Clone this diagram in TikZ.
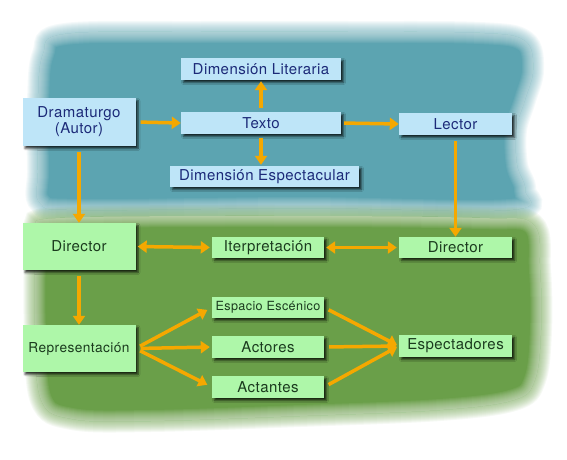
\documentclass[tikz,border=0pt]{standalone}
\usepackage{fontspec}
\setmainfont[LetterSpace=3]{TeX Gyre Heros}
\usetikzlibrary{arrows.meta,shadows.blur}
\definecolor{cielo}{HTML}{5CA4B1}
\definecolor{prado}{HTML}{6A9F49}
\definecolor{cajaazul}{HTML}{BEE5F8}
\definecolor{cajaverde}{HTML}{AEF7A9}
\definecolor{tintaazul}{HTML}{1C2A78}
\definecolor{tintaverde}{HTML}{1B3B1E}
\definecolor{flecha}{HTML}{F5A800}
\newcommand{\cielopath}{plot[smooth cycle, tension=0.6] coordinates {(65,34) (200,32) (350,32) (480,33) (525,41) (533,70) (525,100) (516,130) (517,165) (525,190) (510,210) (300,208) (80,210) (40,203) (38,170) (38,100) (43,54)}}
\newcommand{\pradopath}{plot[smooth cycle, tension=0.6] coordinates {(60,218) (300,216) (480,218) (533,224) (540,270) (541,330) (535,380) (514,400) (440,410) (300,416) (150,421) (72,419) (41,400) (35,330) (35,262) (40,230)}}
\tikzset{
  caja/.style={inner sep=0pt, font=\fontsize{15}{16}\selectfont, blur shadow={shadow xshift=2.5pt, shadow yshift=-2.5pt, shadow blur radius=2pt, shadow blur steps=4, shadow opacity=75}},
  azul/.style={caja, fill=cajaazul, text=tintaazul},
  verde/.style={caja, fill=cajaverde, text=tintaverde},
  punta/.tip={Triangle[width=12pt,length=9pt]},
  flujo/.style={-punta, line width=3.5pt, draw=flecha},
  doble/.style={punta-punta, line width=3.5pt, draw=flecha, shorten <=2pt, shorten >=2pt},
  difuso/.style={line width=#1, opacity=0.061},
  aclarar/.style={white, line width=#1, opacity=0.061}
}
\begin{document}
\begin{tikzpicture}[x=1pt, y=-1pt]
        \useasboundingbox (0,0) rectangle (567,459);
        \foreach \w in {2,4,...,22} \draw[cielo, difuso=\w pt] \cielopath;
        \fill[cielo] \cielopath;
        \begin{scope}
        \clip \cielopath;
        \foreach \w in {2,4,...,22} \draw[aclarar=\w pt] \cielopath;
        \end{scope}
        \foreach \w in {2,4,...,22} \draw[prado, difuso=\w pt] \pradopath;
        \fill[prado] \pradopath;
        \begin{scope}
        \clip \pradopath;
        \foreach \w in {2,4,...,22} \draw[aclarar=\w pt] \pradopath;
        \end{scope}
        \node (dimlit) [azul, minimum width=160pt, minimum height=22pt] at (261,69) {Dimensión Literaria};
        \node (drama) [azul, minimum width=113pt, minimum height=48pt, align=center] at (79,122) {Dramaturgo\\(Autor)};
        \node (texto) [azul, minimum width=160pt, minimum height=22pt] at (261,123) {Texto};
        \node (lector) [azul, minimum width=113pt, minimum height=22pt] at (455.5,124) {Lector};
        \node (dimesp) [azul, minimum width=189pt, minimum height=21pt] at (264.5,176.5) {Dimensión Espectacular};
        \node (dira) [verde, minimum width=113pt, minimum height=47pt] at (79,246.5) {Director};
        \node (interp) [verde, minimum width=112pt, minimum height=21pt] at (268,247.5) {Iterpretación};
        \node (dirb) [verde, minimum width=113pt, minimum height=21pt] at (455.5,247.5) {Director};
        \node (espacio) [verde, minimum width=112pt, minimum height=21pt, font=\fontsize{12.6}{14}\selectfont] at (268,307.5) {Espacio Escénico};
        \node (repre) [verde, minimum width=113pt, minimum height=47pt, font=\fontsize{13.7}{15}\selectfont] at (79,348.5) {Representación};
        \node (actores) [verde, minimum width=112pt, minimum height=22pt] at (268,347) {Actores};
        \node (espect) [verde, minimum width=113pt, minimum height=22pt] at (455.5,346) {Espectadores};
        \node (actantes) [verde, minimum width=112pt, minimum height=22pt] at (268,387) {Actantes};
        \draw[flujo, shorten <=5pt] (drama.east) -- (texto.west);
        \draw[flujo, shorten <=3pt] (texto.east) -- (lector.west);
        \draw[flujo, shorten <=4pt, shorten >=1pt] (texto.north) -- (dimlit.south);
        \draw[flujo, shorten <=4pt, shorten >=1pt] (texto.south) -- (texto.south |- dimesp.north);
        \draw[flujo, shorten <=6pt] (drama.south) -- (dira.north);
        \draw[flujo, shorten <=6pt] (lector.south) -- (dirb.north);
        \draw[doble] (dira.east) -- (interp.west);
        \draw[doble] (interp.east) -- (dirb.west);
        \draw[flujo, shorten <=6pt] (dira.south) -- (repre.north);
        \draw[flujo, shorten <=5pt, shorten >=5pt] (repre.east) -- (espacio.west);
        \draw[flujo, shorten <=5pt, shorten >=2pt] (repre.east) -- (actores.west);
        \draw[flujo, shorten <=5pt, shorten >=5pt] (repre.east) -- (actantes.west);
        \draw[flujo, shorten <=5pt, shorten >=2pt] (espacio.east) -- (espect.west);
        \draw[flujo, shorten <=5pt, shorten >=2pt] (actores.east) -- (espect.west);
        \draw[flujo, shorten <=5pt, shorten >=2pt] (actantes.east) -- (espect.west);
    \end{tikzpicture}
\end{document}
